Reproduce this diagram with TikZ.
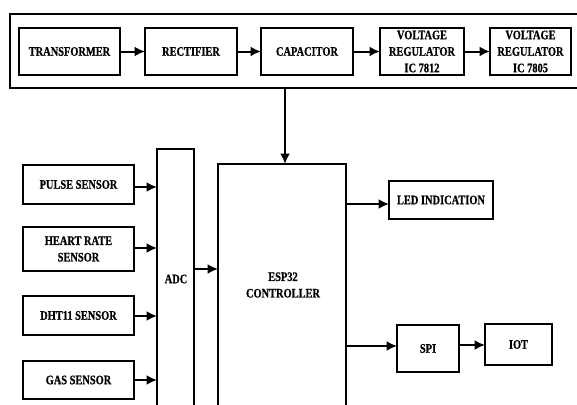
\documentclass[tikz,border=0pt]{standalone}
\usepackage{fontspec}
\newfontfamily\diagfont[FakeStretch=0.8,FakeBold=0.6]{Liberation Serif}
\usetikzlibrary{arrows.meta}
\tikzset{
  blk/.style={draw, line width=2pt, inner sep=0pt, outer sep=0pt, align=center,
    font=\diagfont\bfseries\fontsize{13}{16.5}\selectfont},
  txt/.style={inner sep=0pt, align=center, font=\diagfont\bfseries\fontsize{13}{16.5}\selectfont},
  arr/.style={line width=2pt, -{Latex[length=10.5pt,width=10pt]}}
}
\begin{document}
\begin{tikzpicture}[x=1pt,y=-1pt]
\clip (0,0) rectangle (577,404);
\fill[white] (0,0) rectangle (577,404);
% power supply chain
\node[blk, minimum width=590pt, minimum height=74pt] (pwr) at (305,51) {};
\node[blk, minimum width=101pt, minimum height=47pt] (tr) at (69.5,51.5) {TRANSFORMER};
\node[blk, minimum width=92pt, minimum height=47pt] (re) at (191,51.5) {RECTIFIER};
\node[blk, minimum width=92pt, minimum height=47pt] (ca) at (307,51.5) {CAPACITOR};
\node[blk, minimum width=84pt, minimum height=47pt] (v1) at (422,51.5) {VOLTAGE\\REGULATOR\\IC 7812};
\node[blk, minimum width=81pt, minimum height=47pt] (v2) at (530.5,51.5) {VOLTAGE\\REGULATOR\\IC 7805};
\draw[arr] (tr) -- (re);
\draw[arr] (re) -- (ca);
\draw[arr] (ca) -- (v1);
\draw[arr] (v1) -- (v2);
% sensors
\node[blk, minimum width=111pt, minimum height=39pt] (pu) at (78.5,184.5) {PULSE SENSOR};
\node[blk, minimum width=111pt, minimum height=44pt] (hr) at (78.5,249) {HEART RATE\\SENSOR};
\node[blk, minimum width=111pt, minimum height=39pt] (dh) at (78.5,315.5) {DHT11 SENSOR};
\node[blk, minimum width=111pt, minimum height=38pt] (gs) at (78.5,380) {GAS SENSOR};
% ADC and ESP32
\node[blk, minimum width=37pt, minimum height=300pt] (adc) at (175.5,299) {};
\node[txt] (adct) at (176,279) {ADC};
\node[blk, minimum width=128pt, minimum height=280pt] (esp) at (282,304) {};
\node[txt] (espt) at (283,285) {ESP32\\CONTROLLER};
\coordinate (pd) at (285,0);
\draw[arr] (pd |- pwr.south) -- (pd |- esp.north);
\draw[arr] (pu.east |- 0,187) -- (adc.west |- 0,187);
\draw[arr] (hr.east |- 0,248) -- (adc.west |- 0,248);
\draw[arr] (dh.east |- 0,316) -- (adc.west |- 0,316);
\draw[arr] (gs.east |- 0,380) -- (adc.west |- 0,380);
\draw[arr] (adc.east |- 0,269) -- (esp.west |- 0,269);
% outputs
\node[blk, minimum width=104pt, minimum height=38pt] (led) at (441,200) {LED INDICATION};
\node[blk, minimum width=62pt, minimum height=47pt] (spi) at (428,348.5) {SPI};
\node[blk, minimum width=67pt, minimum height=41pt] (iot) at (518.5,344.5) {IOT};
\draw[arr] (esp.east |- 0,204) -- (led.west |- 0,204);
\draw[arr] (esp.east |- 0,346) -- (spi.west |- 0,346);
\draw[arr] (spi.east |- 0,345) -- (iot.west |- 0,345);
\end{tikzpicture}
\end{document}
